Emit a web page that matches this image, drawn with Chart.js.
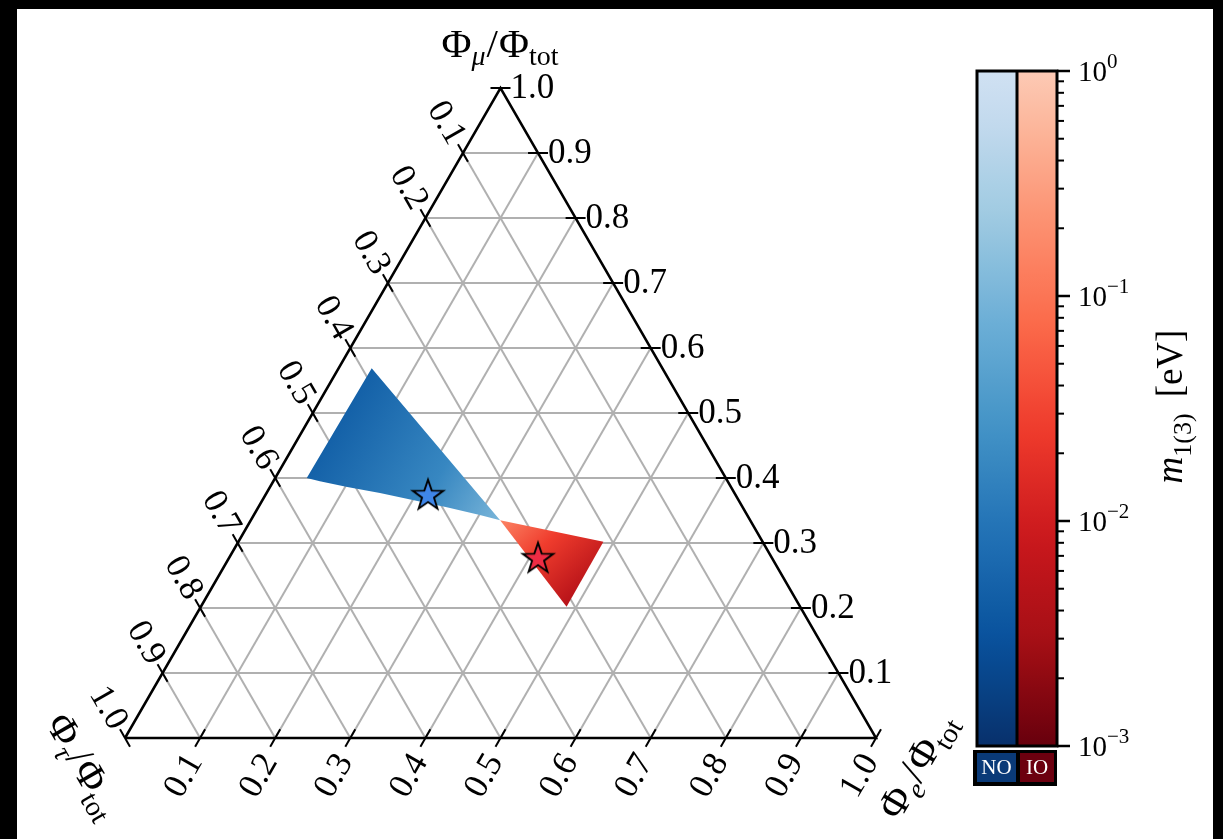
<!DOCTYPE html>
<html>
<head>
<meta charset="utf-8">
<script src="https://cdn.jsdelivr.net/npm/chart.js@4.4.1/dist/chart.umd.min.js"></script>
<style>
  html, body { margin: 0; padding: 0; background: #fff; }
  canvas { display: block; }
</style>
</head>
<body>
<canvas id="chart" width="1223" height="839"></canvas>
<script>
// ---- ternary axes: tick values and labels (shared by the three axes) ----
const tickValues = [0.1, 0.2, 0.3, 0.4, 0.5, 0.6, 0.7, 0.8, 0.9, 1.0];
const tickLabels = ['0.1', '0.2', '0.3', '0.4', '0.5', '0.6', '0.7', '0.8', '0.9', '1.0'];
const gridValues = [0.1, 0.2, 0.3, 0.4, 0.5, 0.6, 0.7, 0.8, 0.9];

// ---- allowed flavour compositions (outline given as Φe and Φμ fractions) ----
// normal ordering (NO)
const noRegionE  = [0.042, 0.044, 0.332, 0.301, 0.251, 0.200, 0.151, 0.103, 0.062];
const noRegionMu = [0.400, 0.569, 0.335, 0.343, 0.355, 0.366, 0.377, 0.386, 0.395];
// inverted ordering (IO)
const ioRegionE  = [0.332, 0.486, 0.487];
const ioRegionMu = [0.335, 0.302, 0.202];

// lightest neutrino mass m1(3) [eV] across each region (wide end -> apex)
const noMassPos = [0.0, 0.6, 1.0];
const noMass    = [0.005, 0.018, 0.1];
const ioMassPos = [0.0, 0.45, 1.0];
const ioMass    = [0.15, 0.026, 0.005];

// best-fit points (Φe, Φμ)
const bestFitNO = [0.216, 0.375];
const bestFitIO = [0.411, 0.278];

// colour bar
const cbTicks     = [1, 0.1, 0.01, 0.001];
const cbExponents = ['0', '\u22121', '\u22122', '\u22123'];
const cbMinor     = [0.9, 0.8, 0.7, 0.6, 0.5, 0.4, 0.3, 0.2,
                     0.09, 0.08, 0.07, 0.06, 0.05, 0.04, 0.03, 0.02,
                     0.009, 0.008, 0.007, 0.006, 0.005, 0.004, 0.003, 0.002];

// ---- placement of the triangle on the canvas ----
const BASE_LEFT = 125;   // pixel x of the bottom-left corner
const BASE_Y = 738;      // pixel y of the base
const SIDE = 751;        // side length in pixels
const HEIGHT = 650;      // triangle height in pixels

// ---- colour maps ----
const BLUES = ['#f7fbff','#deebf7','#c6dbef','#9ecae1','#6baed6','#4292c6','#2171b5','#08519c','#08306b'];
const REDS  = ['#fff5f0','#fee0d2','#fcbba1','#fc9272','#fb6a4a','#ef3b2c','#cb181d','#a50f15','#67000d'];
function hexRgb(h) { return [1, 3, 5].map(i => parseInt(h.substr(i, 2), 16)); }
function cmap(stops, t) {
  t = Math.min(1, Math.max(0, t));
  const f = t * (stops.length - 1);
  const i = Math.min(stops.length - 2, Math.floor(f));
  const a = hexRgb(stops[i]), b = hexRgb(stops[i + 1]), u = f - i;
  const c = a.map((v, k) => Math.round(v + (b[k] - v) * u));
  return `rgb(${c[0]},${c[1]},${c[2]})`;
}
// log-scaled mass -> position in the (truncated, reversed) colour map
function massToT(m) { return 0.2 + 0.8 * (-Math.log10(m) / 3); }

// ---- ternary -> cartesian (x along the base, y = height fraction) ----
function toXY(e, mu) { return { x: e + mu / 2, y: mu }; }

const gridDatasets = [];
gridValues.forEach(v => {
  gridDatasets.push([toXY(0, v), toXY(1 - v, v)]);      // constant Φμ
  gridDatasets.push([toXY(v, 0), toXY(v, 1 - v)]);      // constant Φe
  gridDatasets.push([toXY(1 - v, 0), toXY(0, 1 - v)]);  // constant Φτ
});

function regionFill(from, to, pos, mass, stops) {
  return (c) => {
    const ch = c.chart, xs = ch.scales.x, ys = ch.scales.y;
    if (!ch.chartArea || !xs || !ys) return cmap(stops, massToT(mass[1]));
    const a = toXY(from[0], from[1]), b = toXY(to[0], to[1]);
    const g = ch.ctx.createLinearGradient(
      xs.getPixelForValue(a.x), ys.getPixelForValue(a.y),
      xs.getPixelForValue(b.x), ys.getPixelForValue(b.y));
    pos.forEach((p, i) => g.addColorStop(p, cmap(stops, massToT(mass[i]))));
    return g;
  };
}

function starImage(fill) {
  const s = 38, c = document.createElement('canvas');
  c.width = c.height = s;
  const g = c.getContext('2d');
  g.beginPath();
  for (let i = 0; i < 10; i++) {
    const r = i % 2 ? 6.3 : 16.0;
    const a = -Math.PI / 2 + i * Math.PI / 5;
    g.lineTo(s / 2 + r * Math.cos(a), s / 2 + 1.5 + r * Math.sin(a));
  }
  g.closePath();
  g.fillStyle = fill; g.fill();
  g.lineJoin = 'miter'; g.lineWidth = 1.9; g.strokeStyle = '#000'; g.stroke();
  return c;
}

const datasets = [];
// best-fit stars (drawn last)
datasets.push({ data: [toXY(bestFitNO[0], bestFitNO[1])], pointStyle: starImage('#3f86e8'), pointRadius: 16, order: 0 });
datasets.push({ data: [toXY(bestFitIO[0], bestFitIO[1])], pointStyle: starImage('#ee2c44'), pointRadius: 16, order: 0 });
// triangle frame
datasets.push({ data: [toXY(0, 0), toXY(1, 0), toXY(0, 1), toXY(0, 0)], showLine: true, borderColor: '#000',
  borderWidth: 2.5, pointRadius: 0, borderJoinStyle: 'miter', order: 1 });
// regions
const noPts = noRegionE.map((e, i) => toXY(e, noRegionMu[i]));
const ioPts = ioRegionE.map((e, i) => toXY(e, ioRegionMu[i]));
datasets.push({ data: noPts, showLine: true, fill: 'shape', borderWidth: 0, pointRadius: 0, order: 2,
  backgroundColor: regionFill([0.043, 0.485], [0.332, 0.335], noMassPos, noMass, BLUES) });
datasets.push({ data: ioPts, showLine: true, fill: 'shape', borderWidth: 0, pointRadius: 0, order: 2,
  backgroundColor: regionFill([0.332, 0.335], [0.49, 0.215], ioMassPos, ioMass, REDS) });
// grid
gridDatasets.forEach(d => datasets.push({ data: d, showLine: true, borderColor: '#b0b0b0', borderWidth: 2,
  pointRadius: 0, order: 3 }));

// ---- text helpers ----
const SERIF = '"Liberation Serif", "DejaVu Serif", serif';
function font(size, italic) { return `${italic ? 'italic ' : ''}${size}px ${SERIF}`; }
function richText(ctx, parts, x, y, rot, align) {
  ctx.save();
  ctx.translate(x, y); ctx.rotate(rot || 0);
  ctx.textBaseline = 'alphabetic'; ctx.textAlign = 'left'; ctx.fillStyle = '#000';
  let w = 0;
  parts.forEach(p => { ctx.font = font(p.s, p.i); p.w = ctx.measureText(p.t).width + (p.gap || 0); w += p.w; });
  let cx = align === 'center' ? -w / 2 : (align === 'right' ? -w : 0);
  parts.forEach(p => { ctx.font = font(p.s, p.i); ctx.fillText(p.t, cx, p.dy || 0); cx += p.w; });
  ctx.restore();
}
function rotLabel(ctx, text, x, y, rot, size) {
  ctx.save();
  ctx.translate(x, y); ctx.rotate(rot);
  ctx.font = font(size); ctx.fillStyle = '#000';
  ctx.textAlign = 'center'; ctx.textBaseline = 'middle';
  ctx.fillText(text, 0, 0);
  ctx.restore();
}

const decor = {
  id: 'decor',
  // pin the cartesian scales so that the triangle sits at its fixed place
  afterLayout(chart) {
    const a = chart.chartArea, xs = chart.scales.x, ys = chart.scales.y;
    xs.min = (a.left - BASE_LEFT) / SIDE; xs.max = (a.right - BASE_LEFT) / SIDE; xs.configure();
    ys.min = (BASE_Y - a.bottom) / HEIGHT; ys.max = (BASE_Y - a.top) / HEIGHT; ys.configure();
  },
  beforeDraw(chart) {
    const c = chart.ctx;
    c.save();
    c.fillStyle = '#fff'; c.fillRect(0, 0, chart.width, chart.height);
    c.restore();
  },
  afterDatasetsDraw(chart) {
    const c = chart.ctx, xs = chart.scales.x, ys = chart.scales.y, cb = chart.scales.cb;
    const px = p => ({ x: xs.getPixelForValue(p.x), y: ys.getPixelForValue(p.y) });
    const H = 10, FS = 35;
    c.save();
    c.strokeStyle = '#000'; c.lineWidth = 2; c.lineCap = 'butt';
    const tick = (p, dx, dy) => { c.beginPath(); c.moveTo(p.x - dx * H, p.y - dy * H); c.lineTo(p.x + dx * H, p.y + dy * H); c.stroke(); };
    tickValues.forEach((v, i) => {
      // Φμ axis on the right edge
      const pr = px(toXY(1 - v, v));
      tick(pr, 1, 0);
      c.font = font(FS); c.fillStyle = '#000'; c.textAlign = 'left'; c.textBaseline = 'middle';
      c.fillText(tickLabels[i], pr.x + 10, pr.y + 1);
      // Φτ axis on the left edge
      const pl = px(toXY(0, 1 - v));
      tick(pl, 0.5, 0.866);
      rotLabel(c, tickLabels[i], pl.x - 17, pl.y - 30, Math.PI / 3, FS);
      // Φe axis on the bottom edge
      const pb = px(toXY(v, 0));
      tick(pb, 0.5, -0.866);
      rotLabel(c, tickLabels[i], pb.x - 16, pb.y + 38, -Math.PI / 3, FS);
    });
    c.restore();

    // axis titles
    const ratio = (sym) => [
      { t: '\u03A6', s: 41 }, { t: sym, s: 28, i: true, dy: 8, gap: 1 }, { t: '/', s: 41, gap: 1 },
      { t: '\u03A6', s: 41 }, { t: 'tot', s: 28, dy: 8 }];
    richText(c, ratio('\u03BC'), 500, 57, 0, 'center');
    richText(c, ratio('\u03C4'), 73, 772, Math.PI / 3, 'center');
    richText(c, ratio('e'), 928, 772, -Math.PI / 3, 'center');

    // ---- colour bar ----
    const top = cb.getPixelForValue(1), bot = cb.getPixelForValue(0.001);
    const L = 977, M = 1017, R = 1057;
    const grad = (stops) => {
      const g = c.createLinearGradient(0, top, 0, bot);
      for (let k = 0; k <= 24; k++) { const s = k / 24; g.addColorStop(s, cmap(stops, 0.2 + 0.8 * s)); }
      return g;
    };
    c.save();
    c.fillStyle = grad(BLUES); c.fillRect(L, top, M - L, bot - top);
    c.fillStyle = grad(REDS);  c.fillRect(M, top, R - M, bot - top);
    c.strokeStyle = '#000'; c.lineWidth = 3;
    c.strokeRect(L, top, R - L, bot - top);
    c.beginPath(); c.moveTo(M, top); c.lineTo(M, bot); c.stroke();
    // ticks
    c.lineWidth = 2.5;
    cbTicks.forEach((v, i) => {
      const y = cb.getPixelForValue(v);
      c.beginPath(); c.moveTo(R, y); c.lineTo(R + 13, y); c.stroke();
      richText(c, [{ t: '10', s: 29 }, { t: cbExponents[i], s: 21, dy: -13 }], R + 21, y + 10, 0, 'left');
    });
    c.lineWidth = 2;
    cbMinor.forEach(v => {
      const y = cb.getPixelForValue(v);
      c.beginPath(); c.moveTo(R, y); c.lineTo(R + 7, y); c.stroke();
    });
    // ordering legend boxes
    c.fillStyle = '#000'; c.fillRect(973, bot + 4, 84, 36);
    c.fillStyle = '#0a3a78'; c.fillRect(977, bot + 7, 39, 29);
    c.fillStyle = '#6c000f'; c.fillRect(1020, bot + 7, 34, 29);
    c.fillStyle = '#fff'; c.font = font(21); c.textAlign = 'center'; c.textBaseline = 'middle';
    c.fillText('NO', 996.5, bot + 22.5);
    c.fillText('IO', 1037, bot + 22.5);
    c.restore();
    // colour bar title
    richText(c, [{ t: 'm', s: 37, i: true }, { t: '1(3)', s: 26, dy: 9, gap: 16 }, { t: '[eV]', s: 37 }],
      1182, (top + bot) / 2 - 2, -Math.PI / 2, 'center');

    // black frame strips
    c.save();
    c.fillStyle = '#000';
    c.fillRect(0, 0, chart.width, 9);
    c.fillRect(0, 0, 17, chart.height);
    c.fillRect(1213, 0, chart.width - 1213, chart.height);
    c.restore();
  }
};

new Chart(document.getElementById('chart'), {
  type: 'scatter',
  data: { datasets },
  options: {
    responsive: false,
    animation: false,
    devicePixelRatio: 1,
    layout: { padding: { left: 0, top: 71, right: 46, bottom: 93 } },
    plugins: { legend: { display: false }, tooltip: { enabled: false } },
    scales: {
      x: { type: 'linear', display: false, min: 0, max: 1 },
      y: { type: 'linear', display: false, min: 0, max: 1 },
      cb: { type: 'logarithmic', position: 'right', min: 0.001, max: 1,
            grid: { display: false }, border: { display: false }, ticks: { display: false },
            afterFit: s => { s.width = 120; } }
    }
  },
  plugins: [decor]
});
</script>
</body>
</html>
